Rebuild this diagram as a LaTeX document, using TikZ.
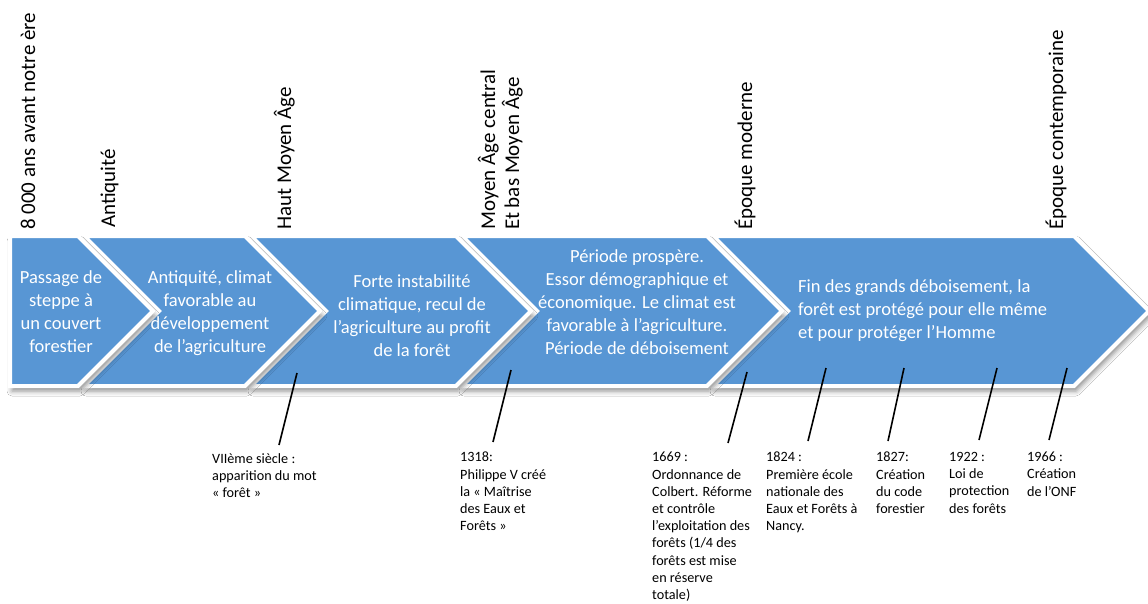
\documentclass[tikz,border=0pt]{standalone}
\usepackage{fontspec}
\setmainfont{Carlito}
\usetikzlibrary{shadows.blur}
\definecolor{chevblue}{RGB}{88,150,212}
\begin{document}
\begin{tikzpicture}[x=1pt,y=-1pt,
  chev/.style={fill=chevblue, draw=white, line width=4pt, line join=miter,
    blur shadow={shadow xshift=2pt, shadow yshift=-5pt, shadow blur radius=5pt, shadow opacity=45}},
  chevtext/.style={text=white, font=\fontsize{18.5}{23}\selectfont, align=center, inner sep=0pt},
  eratext/.style={rotate=90, anchor=base west, font=\fontsize{21}{25}\selectfont, inner sep=0pt},
  evtext/.style={anchor=north west, align=left, font=\fontsize{14.2}{17.2}\selectfont, inner sep=0pt},
  evline/.style={line width=1.6pt, black}]
\useasboundingbox[fill=white] (0,0) rectangle (1148,603);

% chevrons (drawn right to left so earlier ones lie on top)
\path[chev] (713,236) -- (1074,236) -- (1149,311) -- (1074,386) -- (713,386) -- (788,311) -- cycle;
\path[chev] (462,236) -- (707,236) -- (782,311) -- (707,386) -- (462,386) -- (537,311) -- cycle;
\path[chev] (251,236) -- (456,236) -- (531,311) -- (456,386) -- (251,386) -- (326,311) -- cycle;
\path[chev] (84,236) -- (245,236) -- (320,311) -- (245,386) -- (84,386) -- (159,311) -- cycle;
\path[chev] (10,236) -- (78,236) -- (153,311) -- (78,386) -- (10,386) -- cycle;

% chevron texts
\node[chevtext] (t1) at (61,312) {Passage de\\steppe à\\un couvert\\forestier};
\node[chevtext] (t2) at (210,313) {Antiquité, climat\\favorable au\\développement\\de l’agriculture};
\node[chevtext] (t3) at (412,316) {Forte instabilité\\climatique, recul de\\l’agriculture au profit\\de la forêt};
\node[chevtext] (t4) at (637,302) {Période prospère.\\Essor démographique et\\économique. Le climat est\\favorable à l’agriculture.\\Période de déboisement};
\node[chevtext, align=left, anchor=west] (t5) at (798,311) {Fin des grands déboisement, la\\forêt est protégé pour elle même\\et pour protéger l’Homme};

% era labels
\node[eratext] (e1) at (35,230) {8 000 ans avant notre ère};
\node[eratext] (e2) at (115,228) {Antiquité};
\node[eratext] (e3) at (291,230) {Haut Moyen Âge};
\node[eratext] (e4a) at (495,230) {Moyen Âge central};
\node[eratext] (e4b) at (519,230) {Et bas Moyen Âge};
\node[eratext] (e5) at (752,230) {Époque moderne};
\node[eratext] (e6) at (1063,230) {Époque contemporaine};

% event connectors
\coordinate (a1) at (297,373); \coordinate (b1) at (279,445);
\coordinate (a2) at (511,370); \coordinate (b2) at (493,442);
\coordinate (a3) at (747,372); \coordinate (b3) at (728,443);
\coordinate (a4) at (826,368); \coordinate (b4) at (808,441);
\coordinate (a5) at (904,368); \coordinate (b5) at (888,441);
\coordinate (a6) at (997,368); \coordinate (b6) at (979,440);
\coordinate (a7) at (1067,368); \coordinate (b7) at (1049,440);
\foreach \i in {1,...,7} {\draw[evline] (a\i) -- (b\i);}

% event texts
\node[evtext] (v1) at (212,453) {VIIème siècle :\\apparition du mot\\« forêt »};
\node[evtext] (v2) at (460,452) {1318:\\Philippe V créé\\la « Maîtrise\\des Eaux et\\Forêts »};
\node[evtext] (v3) at (652,452) {1669 :\\Ordonnance de\\Colbert. Réforme\\et contrôle\\l’exploitation des\\forêts (1/4 des\\forêts est mise\\en réserve\\totale)};
\node[evtext] (v4) at (766,452) {1824 :\\Première école\\nationale des\\Eaux et Forêts à\\Nancy.};
\node[evtext] (v5) at (876,452) {1827:\\Création\\du code\\forestier};
\node[evtext] (v6) at (949,452) {1922 :\\Loi de\\protection\\des forêts};
\node[evtext] (v7) at (1027,452) {1966 :\\Création\\de l’ONF};
\end{tikzpicture}
\end{document}
